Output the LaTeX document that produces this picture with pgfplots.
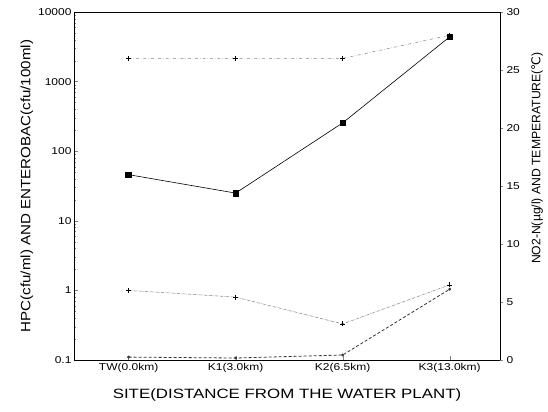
\documentclass[border=0pt]{standalone}
\usepackage{pgfplots}
\pgfplotsset{compat=1.18}
\usepackage{fontspec}
\setmainfont{Liberation Sans}
\newfontfamily\tickfont[FakeStretch=1.2]{Liberation Sans}
\newfontfamily\xlabfont[FakeStretch=1.25]{Liberation Sans}
\newfontfamily\ylabfont[FakeStretch=1.12]{Liberation Sans}
\newfontfamily\dejavu{DejaVu Sans}
\begin{document}
\begin{tikzpicture}
\pgfplotsset{every axis/.append style={scale only axis, width=426pt, height=348pt, xmin=-0.51, xmax=3.47,
  /pgf/number format/assume math mode=true,
  tick label style={font=\tickfont\fontsize{10}{12}\selectfont}}}
\begin{axis}[name=ax1, ymode=log, ymin=0.1, ymax=10000, ytick pos=left, xtick pos=bottom,
  xtick={0,1,2,3}, xticklabels={TW(0.0km),K1(3.0km),K2(6.5km),K3(13.0km)},
  ytick={0.1,1,10,100,1000,10000}, yticklabels={0.1,1,10,100,1000,10000},
  xlabel={SITE(DISTANCE FROM THE WATER PLANT)},
  ylabel={HPC(cfu/ml) AND ENTEROBAC(cfu/100ml)},
  xlabel style={font=\xlabfont\fontsize{13.5}{15}\selectfont, yshift=-9pt},
  ylabel style={font=\ylabfont\fontsize{13.5}{15}\selectfont, yshift=-2pt},
  yticklabel style={xshift=1pt},
  tick align=inside, major tick length=4pt, minor tick length=2.5pt,
  axis line style={line width=0.8pt}]
\addplot[black, line width=0.6pt, mark=square*, mark size=2.8pt] coordinates {(0,46) (1,25) (2,255) (3,4400)};
\addplot[gray, densely dashdotted, line width=0.5pt, mark=+, mark size=2.5pt, mark options={solid,black}] coordinates {(0,1) (1,0.8) (2,0.33) (3,1.2)};
\end{axis}
\begin{axis}[axis y line*=right, axis x line=none, ymin=0, ymax=30, ytick={0,5,...,30},
  tick align=outside, major tick length=3pt, axis line style={line width=0.8pt},
  ylabel={NO2-N(µg/l) AND TEMPERATURE({\dejavu ℃})},
  ylabel style={font=\fontsize{12.2}{14}\selectfont, at={(axis description cs:1.087,0.58)}, anchor=center}]
\addplot[gray, dashdotted, line width=0.5pt, mark=+, mark size=2.5pt, mark options={solid,black}] coordinates {(0,26) (1,26) (2,26) (3,28)};
\addplot[black!80, densely dashed, line width=0.8pt, mark=*, mark size=1pt, mark options={solid}] coordinates {(0,0.25) (1,0.17) (2,0.43) (3,6.1)};
\end{axis}
\pgfresetboundingbox
\path ([xshift=-74pt,yshift=-52pt]ax1.south west) rectangle ([xshift=48pt,yshift=12pt]ax1.north east);
\end{tikzpicture}
\end{document}
